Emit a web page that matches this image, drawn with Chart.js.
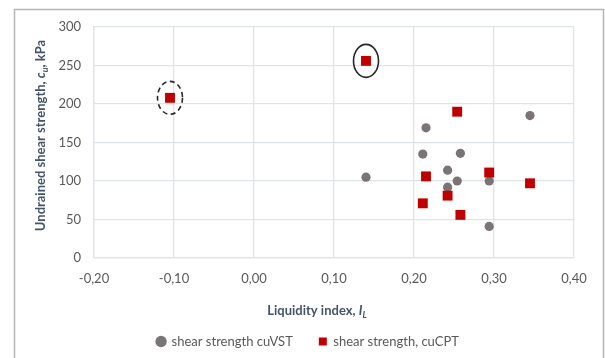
<!DOCTYPE html>
<html>
<head>
<meta charset="utf-8">
<script src="https://cdn.jsdelivr.net/npm/chart.js@4"></script>
<style>
  html, body { margin: 0; padding: 0; background: #ffffff; }
  #wrap { width: 605px; height: 358px; position: relative; }
</style>
</head>
<body>
<div id="wrap"><canvas id="c" width="605" height="358"></canvas></div>
<script>
// Vane shear test results: liquidity index vs. undrained shear strength
const vstLiquidity = [0.140, 0.345, 0.215, 0.211, 0.258, 0.242, 0.254, 0.294, 0.242, 0.294];
const vstStrength  = [105, 185, 169, 135, 136, 114, 100, 100, 92, 41];

// CPT-derived results
const cptLiquidity = [-0.105, 0.140, 0.254, 0.294, 0.215, 0.345, 0.242, 0.211, 0.258];
const cptStrength  = [208, 256, 190, 111, 106, 97, 81, 71, 56];

// Highlighted CPT points: index into the CPT arrays, outline style
const markedCpt = [
  { index: 0, dashed: true },
  { index: 1, dashed: false }
];

const seriesNames = ['shear strength cuVST', 'shear strength, cuCPT'];

const xTicks = { min: -0.2, max: 0.4, step: 0.1 };
const yTicks = { min: 0, max: 300, step: 50 };

const toPoints = (xs, ys) => xs.map((x, i) => ({ x: x, y: ys[i] }));

const FONT = 'Lato, "Open Sans", "Liberation Sans", sans-serif';
const TICK_COLOR = '#595959';
const TITLE_COLOR = '#44546a';
const GRID_COLOR = '#dfe3ea';

// Outer frame of the figure
const framePlugin = {
  id: 'frame',
  beforeDraw(chart) {
    const ctx = chart.ctx;
    ctx.save();
    ctx.strokeStyle = '#b4b4b4';
    ctx.lineWidth = 1.5;
    ctx.beginPath();
    ctx.moveTo(14.5, 358);
    ctx.lineTo(14.5, 9.5);
    ctx.lineTo(603.5, 9.5);
    ctx.lineTo(603.5, 358);
    ctx.stroke();
    ctx.restore();
  }
};

// Centre the legend on the whole figure rather than the padded layout box
const legendShiftPlugin = {
  id: 'legendShift',
  afterLayout(chart) {
    const lg = chart.legend;
    if (!lg) return;
    const dx = 21;
    lg.left += dx;
    lg.right += dx;
  }
};

// Draws a run of text segments (normal / italic / subscript)
function drawRuns(ctx, runs, size, align) {
  const fontFor = r => `${r.italic ? 'italic ' : ''}bold ${r.sub ? Math.round(size * 0.7) : size}px ${FONT}`;
  let total = 0;
  runs.forEach(r => { ctx.font = fontFor(r); total += ctx.measureText(r.t).width; });
  let x = align === 'center' ? -total / 2 : 0;
  runs.forEach(r => {
    ctx.font = fontFor(r);
    ctx.fillText(r.t, x, r.sub ? size * 0.28 : 0);
    x += ctx.measureText(r.t).width;
  });
}

// Axis titles with italic symbols and subscripts
const titlesPlugin = {
  id: 'axisTitles',
  afterDraw(chart) {
    const ctx = chart.ctx;
    const area = chart.chartArea;
    ctx.save();
    ctx.fillStyle = TITLE_COLOR;
    ctx.textBaseline = 'middle';
    ctx.textAlign = 'left';

    ctx.save();
    ctx.translate((area.left + area.right) / 2 - 17, area.bottom + 53);
    drawRuns(ctx, [
      { t: 'Liquidity index, ' },
      { t: 'I', italic: true },
      { t: 'L', italic: true, sub: true }
    ], 13, 'center');
    ctx.restore();

    ctx.save();
    ctx.translate(41, (area.top + area.bottom) / 2 - 7);
    ctx.rotate(-Math.PI / 2);
    drawRuns(ctx, [
      { t: 'Undrained shear strength, ' },
      { t: 'c', italic: true },
      { t: 'u', italic: true, sub: true },
      { t: ', kPa' }
    ], 13, 'center');
    ctx.restore();

    ctx.restore();
  }
};

// Ellipses around selected CPT points
const ringsPlugin = {
  id: 'rings',
  afterDatasetsDraw(chart) {
    const ctx = chart.ctx;
    const xs = chart.scales.x, ys = chart.scales.y;
    ctx.save();
    ctx.strokeStyle = '#262626';
    ctx.lineWidth = 1.6;
    markedCpt.forEach(m => {
      const px = xs.getPixelForValue(cptLiquidity[m.index]);
      const py = ys.getPixelForValue(cptStrength[m.index]);
      ctx.setLineDash(m.dashed ? [5, 3.5] : []);
      ctx.beginPath();
      ctx.ellipse(px, py, 12.5, 16.5, 0, 0, Math.PI * 2);
      ctx.stroke();
    });
    ctx.restore();
  }
};

new Chart(document.getElementById('c'), {
  type: 'scatter',
  data: {
    datasets: [
      {
        label: seriesNames[0],
        data: toPoints(vstLiquidity, vstStrength),
        pointStyle: 'circle',
        pointRadius: 4.6,
        pointHoverRadius: 4.6,
        backgroundColor: '#7a7474',
        borderColor: '#7a7474',
        borderWidth: 0,
        order: 1
      },
      {
        label: seriesNames[1],
        data: toPoints(cptLiquidity, cptStrength),
        pointStyle: 'rect',
        pointRadius: 7,
        pointHoverRadius: 7,
        backgroundColor: '#c00000',
        borderColor: '#c00000',
        borderWidth: 0,
        order: 0
      }
    ]
  },
  options: {
    responsive: false,
    animation: false,
    devicePixelRatio: 1,
    layout: { padding: { left: 0, top: 27, right: 31, bottom: 0 } },
    plugins: {
      tooltip: { enabled: false },
      legend: {
        position: 'bottom',
        labels: {
          usePointStyle: true,
          boxWidth: 8,
          boxHeight: 8,
          padding: 26,
          color: TICK_COLOR,
          font: { family: FONT, size: 13 },
          sort: (a, b) => a.datasetIndex - b.datasetIndex
        }
      }
    },
    scales: {
      x: {
        type: 'linear',
        min: xTicks.min,
        max: xTicks.max,
        afterFit(scale) { scale.height = 51; },
        ticks: {
          stepSize: xTicks.step,
          color: TICK_COLOR,
          font: { family: FONT, size: 13 },
          padding: 13,
          callback: v => v.toFixed(2).replace('.', ',')
        },
        grid: { color: GRID_COLOR, lineWidth: 1.3, drawTicks: false },
        border: { color: GRID_COLOR, width: 1.3 }
      },
      y: {
        type: 'linear',
        min: yTicks.min,
        max: yTicks.max,
        afterFit(scale) { scale.width = 94; },
        ticks: {
          stepSize: yTicks.step,
          color: TICK_COLOR,
          font: { family: FONT, size: 13 },
          padding: 13
        },
        grid: { color: GRID_COLOR, lineWidth: 1.3, drawTicks: false },
        border: { color: GRID_COLOR, width: 1.3 }
      }
    }
  },
  plugins: [framePlugin, legendShiftPlugin, titlesPlugin, ringsPlugin]
});
</script>
</body>
</html>
